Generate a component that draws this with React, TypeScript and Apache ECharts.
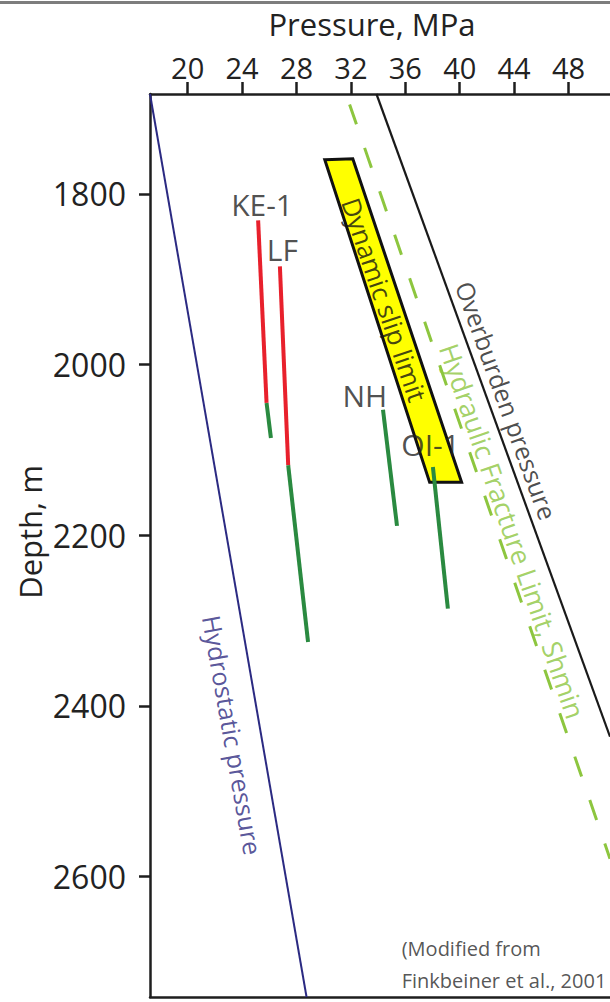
import React, { useEffect, useRef } from "react";
import * as echarts from "echarts";

// ---- data (pressure MPa, depth m) ----
const pressureTicks = [20, 24, 28, 32, 36, 40, 44, 48];
const depthTicks = [1800, 2000, 2200, 2400, 2600];
const pressureRange = [17.23, 51.05];
const depthRange = [1683, 2741];

const hydrostatic = [[17.23, 1683], [28.74, 2741]];
const overburden = [[33.88, 1683], [51.05, 2436]];
const fracLimit = [[31.64, 1683], [51.05, 2579]];

const ke1Red = [[25.18, 1831], [25.8, 2045]];
const ke1Green = [[25.8, 2045], [26.12, 2086]];
const lfRed = [[26.78, 1885], [27.39, 2118]];
const lfGreen = [[27.39, 2118], [28.85, 2325]];
const nhGreen = [[34.36, 2053], [35.39, 2189]];
const oi1Green = [[38.03, 2120], [39.13, 2286]];

const slipBox = [[30.08, 1760], [32.14, 1759], [40.14, 2138], [37.79, 2138]];

const wellNames = ["KE-1", "LF", "NH", "OI-1"];
const wellLabelPos = [[25.47, 1812], [26.96, 1865], [33.02, 2036], [37.86, 2094]];

const curveNames = ["Dynamic slip limit", "Overburden pressure", "Hydraulic Fracture Limit, Shmin", "Hydrostatic pressure"];
const curveLabelPos = [[34.47, 1924], [43.45, 2042], [43.89, 2195], [23.31, 2434]];
const curveLabelRotate = [-71.2, -70.1, -71, -80];
const curveLabelColor = ["#141414", "#1e1e1e", "#8dc63f", "#2e2a80"];
const curveLabelSize = [26, 25, 27, 25];

const sourceNote = "(Modified from\nFinkbeiner et al., 2001";
const sourceNotePos = [35.7, 2703];

const FONT = "'Open Sans', sans-serif";
const TXT = "#222222";

function lineSeries(data: number[][], color: string, width: number, type: any = "solid", z = 3, dashOffset = 0) {
  return {
    type: "line",
    data,
    symbol: "none",
    showSymbol: false,
    clip: true,
    silent: true,
    z,
    lineStyle: { color, width, type, cap: "butt", dashOffset },
  };
}

export default function App() {
  const ref = useRef<HTMLDivElement>(null);

  useEffect(() => {
    if (!ref.current) return;
    const chart = echarts.init(ref.current, null, { renderer: "svg" });

    const option: any = {
      animation: false,
      backgroundColor: "#ffffff",
      textStyle: { fontFamily: FONT },
      grid: { left: 150, top: 94, right: 0, bottom: 5, containLabel: false },
      xAxis: [
        {
          type: "value",
          position: "top",
          min: pressureRange[0],
          max: pressureRange[1],
          splitLine: { show: false },
          axisLine: { show: true, lineStyle: { color: "#1e1e1e", width: 2.5 } },
          axisTick: { show: true, inside: false, length: 12, lineStyle: { color: "#1e1e1e", width: 2.5 }, customValues: pressureTicks },
          axisLabel: { show: true, customValues: pressureTicks, fontSize: 29, color: TXT, fontFamily: FONT, margin: 12, formatter: (v: number) => String(v) },
        },
        {
          type: "value",
          position: "bottom",
          min: pressureRange[0],
          max: pressureRange[1],
          splitLine: { show: false },
          axisLine: { show: true, lineStyle: { color: "#1e1e1e", width: 2.5 } },
          axisTick: { show: false },
          axisLabel: { show: false },
        },
      ],
      yAxis: {
        type: "value",
        inverse: true,
        min: depthRange[0],
        max: depthRange[1],
        splitLine: { show: false },
        axisLine: { show: true, lineStyle: { color: "#1e1e1e", width: 2.5 } },
        axisTick: { show: true, inside: false, length: 11, lineStyle: { color: "#1e1e1e", width: 2.5 }, customValues: depthTicks },
        axisLabel: { show: true, customValues: depthTicks, fontSize: 32, color: TXT, fontFamily: FONT, margin: 24, formatter: (v: number) => String(v) },
      },
      graphic: [
        { type: "rect", shape: { x: 0, y: 1, width: 610, height: 3 }, style: { fill: "#7d7d7d" }, silent: true },
        {
          type: "text", x: 372, y: 24,
          style: { text: "Pressure, MPa", fontSize: 31, fontFamily: FONT, fill: TXT, align: "center", verticalAlign: "middle" },
        },
        {
          type: "text", x: 30, y: 532, rotation: Math.PI / 2,
          style: { text: "Depth, m", fontSize: 31, fontFamily: FONT, fill: TXT, align: "center", verticalAlign: "middle" },
        },
      ],
      series: [
        {
          type: "custom",
          data: [0],
          z: 2,
          silent: true,
          renderItem: (params: any, api: any) => ({
            type: "polygon",
            shape: { points: slipBox.map((p) => api.coord(p)) },
            style: { fill: "#ffff00", stroke: "#111111", lineWidth: 3, lineJoin: "miter" },
          }),
        },
        lineSeries(hydrostatic, "#2b2a82", 2),
        lineSeries(overburden, "#1a1a1a", 2.2),
        lineSeries(fracLimit, "#8dc63f", 3, [21, 25], 3, 35),
        lineSeries(ke1Red, "#e8202c", 4, "solid", 4),
        lineSeries(ke1Green, "#2a8a40", 4, "solid", 4),
        lineSeries(lfRed, "#e8202c", 4, "solid", 4),
        lineSeries(lfGreen, "#2a8a40", 4, "solid", 4),
        lineSeries(nhGreen, "#2a8a40", 4, "solid", 4),
        lineSeries(oi1Green, "#2a8a40", 4, "solid", 4),
        {
          type: "scatter",
          silent: true,
          z: 6,
          symbolSize: 1,
          itemStyle: { color: "transparent" },
          data: wellNames.map((n, i) => ({ name: n, value: wellLabelPos[i] })),
          label: {
            show: true, position: "inside", formatter: (p: any) => p.name,
            fontSize: 30, color: TXT, fontFamily: FONT,
          },
        },
        {
          type: "scatter",
          silent: true,
          z: 6,
          symbolSize: 1,
          itemStyle: { color: "transparent" },
          data: curveNames.map((n, i) => ({
            name: n,
            value: curveLabelPos[i],
            label: { rotate: curveLabelRotate[i], color: curveLabelColor[i], fontSize: curveLabelSize[i] },
          })),
          label: { show: true, position: "inside", formatter: (p: any) => p.name, fontFamily: FONT },
        },
        {
          type: "scatter",
          silent: true,
          z: 6,
          symbolSize: 1,
          itemStyle: { color: "transparent" },
          data: [{ name: sourceNote, value: sourceNotePos }],
          label: {
            show: true, position: "right", distance: 0, formatter: (p: any) => p.name,
            fontSize: 20, lineHeight: 32, color: "#2a2a2a", fontFamily: FONT, align: "left",
          },
        },
      ],
    };

    chart.setOption(option);
    return () => chart.dispose();
  }, []);

  return (
    <div
      ref={ref}
      style={{ position: "fixed", left: 0, top: 0, width: 610, height: 1002, background: "#fff" }}
    />
  );
}
